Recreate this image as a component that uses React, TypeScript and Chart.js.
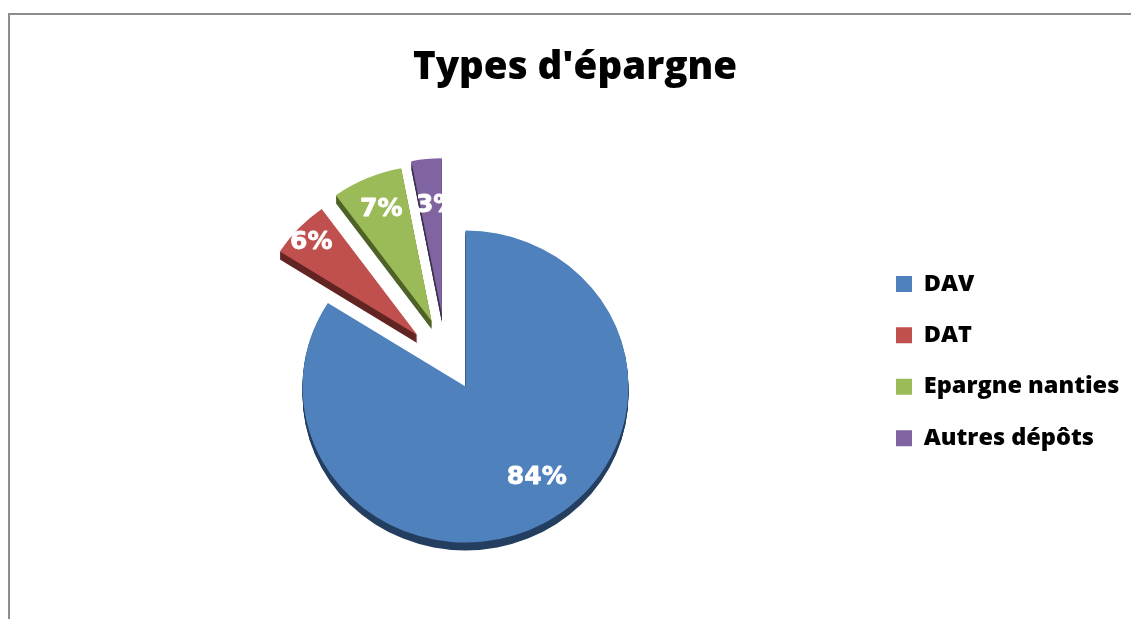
import React, { useEffect, useRef } from "react";
import { Chart, registerables } from "chart.js";

Chart.register(...registerables);

// ---- data ----
const TITLE = "Types d'épargne";
const CATEGORIES = ["DAV", "DAT", "Epargne nanties", "Autres dépôts"];
const VALUES = [84, 6, 7, 3];

// ---- styles ----
const FILL = ["#4F81BD", "#C0504D", "#9BBB59", "#8064A2"];
const SIDE = ["#243F60", "#632523", "#4F6228", "#3F3151"];
const EXPLODE = [0, 72, 76, 79]; // explosion distance per slice (px)
const EXPLODE_TURN = [0, 5, -3, -12]; // degrees, explosion direction tweak
const LABEL_FRAC = [0.73, 0.88, 0.78, 0.7];
const LABEL_TURN = [-8, -1, 0, 3]; // degrees
const TILT = 0.957;
const DEPTH = 8;

const LEGEND_FONT = { family: "'Open Sans'", size: 23.5, weight: "800" };
const LEGEND_PAD = 27.9;
const LEGEND_BOX = 16;

const total = VALUES.reduce((a, b) => a + b, 0);
const PCT = VALUES.map((v) => Math.round((v / total) * 100) + "%");

const deg = Math.PI / 180;

const pie3d = {
  id: "pie3d",
  beforeDatasetDraw(chart: any, args: any) {
    const ctx: CanvasRenderingContext2D = chart.ctx;
    const els = args.meta.data;
    const geo = els.map((el: any, i: number) => {
      const p = el.getProps(["x", "y", "startAngle", "endAngle", "outerRadius"], true);
      const mid = (p.startAngle + p.endAngle) / 2;
      const ea = mid + EXPLODE_TURN[i] * deg;
      return { ...p, mid, ex: Math.cos(ea) * EXPLODE[i], ey: Math.sin(ea) * EXPLODE[i] };
    });
    // extruded sides
    geo.forEach((g: any, i: number) => {
      for (let d = DEPTH; d >= 1; d--) {
        ctx.save();
        ctx.translate(0, d);
        ctx.translate(g.x, g.y);
        ctx.scale(1, TILT);
        ctx.translate(-g.x, -g.y);
        ctx.translate(g.ex, g.ey);
        ctx.beginPath();
        ctx.moveTo(g.x, g.y);
        ctx.arc(g.x, g.y, g.outerRadius, g.startAngle, g.endAngle);
        ctx.closePath();
        ctx.fillStyle = SIDE[i];
        ctx.fill();
        ctx.restore();
      }
    });
    // top faces, drawn by the library's own arc elements
    els.forEach((el: any, i: number) => {
      const g = geo[i];
      ctx.save();
      ctx.translate(g.x, g.y);
      ctx.scale(1, TILT);
      ctx.translate(-g.x, -g.y);
      ctx.translate(g.ex, g.ey);
      el.draw(ctx);
      ctx.restore();
    });
    // labels
    ctx.save();
    ctx.font = "bold 25px 'DejaVu Sans'";
    ctx.fillStyle = "#ffffff";
    ctx.strokeStyle = "#ffffff";
    ctx.lineWidth = 0.8;
    ctx.lineJoin = "round";
    ctx.textAlign = "center";
    ctx.textBaseline = "middle";
    geo.forEach((g: any, i: number) => {
      const a = g.mid + LABEL_TURN[i] * deg;
      const rr = LABEL_FRAC[i] * g.outerRadius;
      const lx = g.x + g.ex + Math.cos(a) * rr;
      const ly = g.y + (g.ey + Math.sin(a) * rr) * TILT;
      ctx.strokeText(PCT[i], lx, ly);
      ctx.fillText(PCT[i], lx, ly);
    });
    ctx.restore();
    return false;
  },
};

export default function App() {
  const ref = useRef<HTMLCanvasElement>(null);
  useEffect(() => {
    // layout: legend box at x=896, pie centre x=465.5, title centre x=575
    const mctx = document.createElement("canvas").getContext("2d") as CanvasRenderingContext2D;
    mctx.font = `${LEGEND_FONT.weight} ${LEGEND_FONT.size}px ${LEGEND_FONT.family}`;
    const textW = Math.max(...CATEGORIES.map((c) => mctx.measureText(c).width));
    const legendW = LEGEND_PAD + LEGEND_BOX + LEGEND_FONT.size / 2 + textW + 10;
    const legendLeft = 896 - LEGEND_PAD;
    const W = 1131;
    const R = Math.max(W - legendLeft - legendW, 0);
    const L = 2 * 575 - W + R;
    const spacer = Math.max(2 * 465.5 - legendLeft - L, 14.4);

    const chart = new Chart(ref.current as HTMLCanvasElement, {
      type: "pie",
      data: {
        labels: CATEGORIES,
        datasets: [
          {
            data: VALUES,
            backgroundColor: FILL,
            borderWidth: 0,
            clip: false as any,
          } as any,
        ],
      },
      options: {
        animation: false,
        responsive: false,
        devicePixelRatio: 1,
        radius: 163,
        layout: { padding: { left: L, right: R, top: 45.1, bottom: 0 } },
        plugins: {
          tooltip: { enabled: false },
          title: {
            display: true,
            text: TITLE,
            color: "#000",
            font: { family: "'Open Sans'", size: 38.5, weight: "800" },
            padding: { top: 0, bottom: 4.7 },
          },
          subtitle: {
            display: true,
            text: "",
            position: "left",
            font: { size: 12, lineHeight: 1.2 },
            padding: { top: spacer - 14.4, bottom: 0 },
          },
          legend: {
            display: true,
            position: "right",
            labels: {
              color: "#000",
              boxWidth: LEGEND_BOX,
              boxHeight: LEGEND_BOX,
              padding: LEGEND_PAD,
              font: LEGEND_FONT,
            },
          },
        },
      } as any,
      plugins: [pie3d],
    });
    return () => chart.destroy();
  }, []);

  return (
    <div
      style={{
        position: "fixed",
        left: 0,
        top: 0,
        width: 1131,
        height: 619,
        overflow: "hidden",
        background: "#fff",
      }}
    >
      <div
        style={{
          position: "absolute",
          left: 8,
          top: 13,
          width: 1300,
          height: 800,
          borderLeft: "2px solid #8c8c8c",
          borderTop: "2px solid #8c8c8c",
        }}
      />
      <canvas
        ref={ref}
        width={1131}
        height={677}
        style={{ position: "absolute", left: 0, top: 0, width: 1131, height: 677 }}
      />
    </div>
  );
}
